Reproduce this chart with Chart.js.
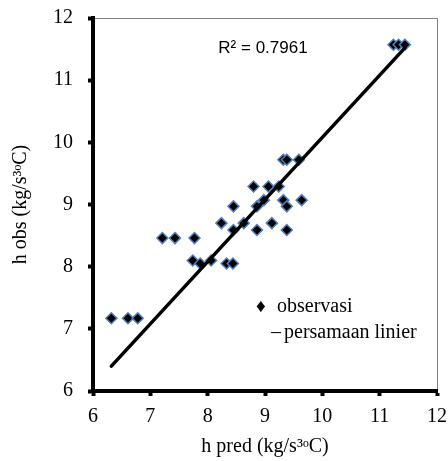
<!DOCTYPE html>
<html><head><meta charset="utf-8">
<script src="https://cdn.jsdelivr.net/npm/chart.js@4/dist/chart.umd.min.js"></script>
<style>html,body{margin:0;padding:0;background:#fff}#wrap{width:448px;height:461px}</style>
</head><body><div id="wrap"><canvas id="c" width="448" height="461"></canvas></div>
<script>
// ---- data ----
const hPred = [6.32, 6.61, 6.78, 7.21, 7.43, 7.77, 7.74, 7.87, 8.06, 8.33, 8.44, 8.24, 8.45, 8.45, 8.63, 8.80,
               8.86, 8.86, 8.98, 9.06, 9.24, 9.12, 9.38, 9.32, 9.38, 9.64, 9.32, 9.38, 9.59, 11.24, 11.33, 11.44];
const hObs  = [7.17, 7.17, 7.17, 8.46, 8.46, 8.46, 8.10, 8.05, 8.10, 8.05, 8.05, 8.70, 8.97, 8.59, 8.70, 9.29,
               8.59, 8.97, 9.07, 9.29, 9.29, 8.70, 8.59, 9.07, 8.97, 9.07, 9.72, 9.72, 9.72, 11.57, 11.57, 11.57];
const linePred = [6.32, 11.44];
const lineObs  = [6.40, 11.52];
const xTicks = [6, 7, 8, 9, 10, 11, 12];
const yTicks = [6, 7, 8, 9, 10, 11, 12];
const r2Label = 'R² = 0.7961';
const legendMarker = '♦';
const legendDash = '–';
const seriesNames = ['observasi', 'persamaan linier'];
const xTitle = 'h pred (kg/s³ᵒC)';
const yTitle = 'h obs (kg/s³ᵒC)';

const serif = '"Liberation Serif", "Times New Roman", serif';
const sans = '"Liberation Sans", Arial, sans-serif';

const extras = {
  id: 'extras',
  afterDraw(chart) {
    const ctx = chart.ctx, ca = chart.chartArea;
    ctx.save();
    // thin top/right frame
    ctx.strokeStyle = '#7f7f7f';
    ctx.lineWidth = 1;
    ctx.beginPath();
    ctx.moveTo(ca.left + 2, ca.top + 0.5);
    ctx.lineTo(ca.right + 0.5, ca.top + 0.5);
    ctx.lineTo(ca.right + 0.5, ca.bottom - 2);
    ctx.stroke();
    // R² label
    ctx.fillStyle = '#000';
    ctx.font = '17px ' + sans;
    ctx.textAlign = 'center';
    ctx.textBaseline = 'alphabetic';
    ctx.fillText(r2Label, ca.left + 170, ca.top + 35);
    // legend text
    ctx.textAlign = 'left';
    ctx.font = '19px ' + serif;
    ctx.fillText(legendMarker, ca.left + 163, ca.top + 294);
    ctx.font = '20px ' + serif;
    ctx.fillText(seriesNames[0], ca.left + 184, ca.top + 294);
    ctx.fillText(legendDash, ca.left + 178, ca.top + 320);
    ctx.fillText(seriesNames[1], ca.left + 191, ca.top + 320);
    ctx.restore();
  }
};

const axisCommon = {
  type: 'linear',
  min: 6, max: 12,
  border: { display: true, color: '#000', width: 4 },
  grid: { display: true, drawOnChartArea: false, drawTicks: true, tickLength: 5, tickWidth: 4, tickColor: '#000', color: '#000' },
};

new Chart(document.getElementById('c'), {
  data: {
    datasets: [
      {
        type: 'scatter',
        label: seriesNames[0],
        data: hPred.map((x, i) => ({ x, y: hObs[i] })),
        pointStyle: 'rectRot',
        pointRadius: 5.5,
        pointHoverRadius: 5.5,
        backgroundColor: '#000',
        borderColor: '#4F81BD',
        borderWidth: 1.5,
        order: 2
      },
      {
        type: 'line',
        label: seriesNames[1],
        data: linePred.map((x, i) => ({ x, y: lineObs[i] })),
        borderColor: '#000',
        borderWidth: 3.5,
        borderCapStyle: 'round',
        pointRadius: 0,
        fill: false,
        order: 1
      }
    ]
  },
  options: {
    responsive: false,
    animation: false,
    layout: { autoPadding: false, padding: { top: 18, right: 11, left: 0, bottom: 0 } },
    plugins: { legend: { display: false }, tooltip: { enabled: false } },
    scales: {
      x: Object.assign({}, axisCommon, {
        position: 'bottom',
        afterBuildTicks: s => { s.ticks = xTicks.map(v => ({ value: v })); },
        afterFit: s => { s.height = 70; s.paddingLeft = 0; s.paddingRight = 0; s.paddingTop = 0; s.paddingBottom = 0; },
        ticks: { color: '#000', font: { family: serif, size: 20 }, padding: 9, maxRotation: 0 },
        title: { display: true, text: xTitle, color: '#000', font: { family: serif, size: 20 }, padding: { top: 0, bottom: 2 } }
      }),
      y: Object.assign({}, axisCommon, {
        position: 'left',
        afterBuildTicks: s => { s.ticks = yTicks.map(v => ({ value: v })); },
        afterFit: s => { s.width = 93; s.paddingLeft = 0; s.paddingRight = 0; s.paddingTop = 0; s.paddingBottom = 0; },
        ticks: { color: '#000', font: { family: serif, size: 20 }, padding: 15 },
        title: { display: true, text: yTitle, color: '#000', font: { family: serif, size: 20 }, padding: { top: 9, bottom: 0 } }
      })
    }
  },
  plugins: [extras]
});
</script>
</body></html>
